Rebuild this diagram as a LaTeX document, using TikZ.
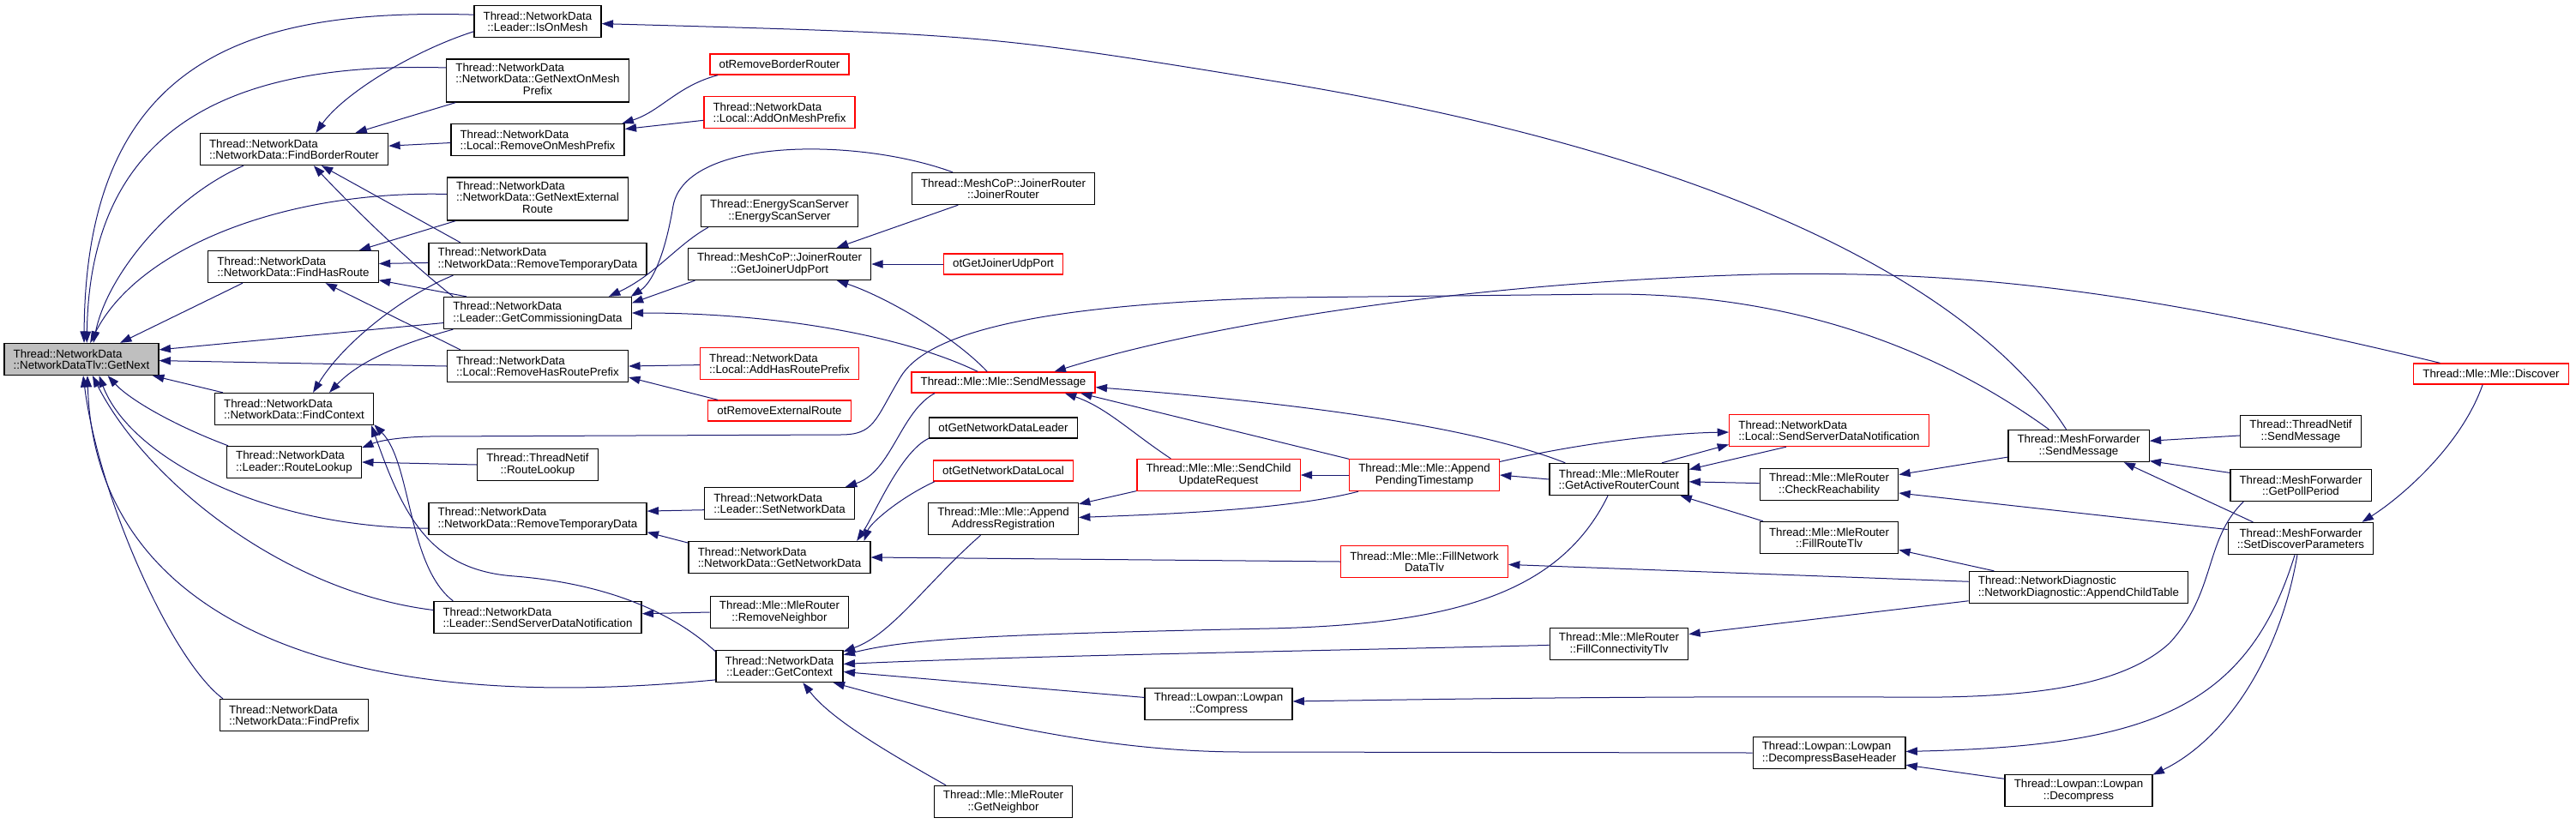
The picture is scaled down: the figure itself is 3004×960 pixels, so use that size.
\documentclass[tikz,border=0pt]{standalone}
\usepackage{fontspec}
\setmainfont{Liberation Sans}
\usetikzlibrary{arrows.meta}

\definecolor{edgeblue}{HTML}{191970}
\definecolor{truncred}{HTML}{FF0000}
\definecolor{focusgray}{HTML}{BFBFBF}

\tikzset{
	fn/.style={draw=black, line width=1pt, fill=white, inner xsep=8pt, inner ysep=1pt,
		minimum height=27.75pt, align=left, font=\fontsize{10pt}{10pt}\selectfont},
	fnc/.style={fn, align=center},
	oneline/.style={minimum height=18pt},
	threeline/.style={minimum height=37.5pt},
	trunc/.style={draw=truncred},
	focus/.style={fill=focusgray},
	call/.style={draw=edgeblue, line width=0.75pt, -{Triangle[length=10pt,width=7pt]}}
}

\begin{document}
\begin{tikzpicture}[x=0.75pt,y=-0.75pt]
	\useasboundingbox (0,0) rectangle (3004,960);
	% the function itself
	\node[fn,focus] (gn) at (95,419) {Thread::NetworkData\\::NetworkDataTlv::GetNext};
	% second column
	\node[fn] (fbr) at (343,174) {Thread::NetworkData\\::NetworkData::FindBorderRouter};
	\node[fn] (fhr) at (342,311) {Thread::NetworkData\\::NetworkData::FindHasRoute};
	\node[fn] (fctx) at (343,477) {Thread::NetworkData\\::NetworkData::FindContext};
	\node[fn] (rl) at (343,539) {Thread::NetworkData\\::Leader::RouteLookup};
	\node[fn] (fpre) at (343,834) {Thread::NetworkData\\::NetworkData::FindPrefix};
	% third column
	\node[fnc] (ison) at (627,25) {Thread::NetworkData\\::Leader::IsOnMesh};
	\node[fn,threeline] (gnomp) at (627,94) {\begin{tabular}{@{}l@{}}Thread::NetworkData\\::NetworkData::GetNextOnMesh\\\multicolumn{1}{@{}c@{}}{Prefix}\end{tabular}};
	\node[fn] (romp) at (627,163) {Thread::NetworkData\\::Local::RemoveOnMeshPrefix};
	\node[fn,threeline] (gner) at (627,232) {\begin{tabular}{@{}l@{}}Thread::NetworkData\\::NetworkData::GetNextExternal\\\multicolumn{1}{@{}c@{}}{Route}\end{tabular}};
	\node[fn] (rtda) at (627,302) {Thread::NetworkData\\::NetworkData::RemoveTemporaryData};
	\node[fn] (gcd) at (627,365) {Thread::NetworkData\\::Leader::GetCommissioningData};
	\node[fn] (rhrp) at (627,427) {Thread::NetworkData\\::Local::RemoveHasRoutePrefix};
	\node[fnc] (tnrl) at (627,542) {Thread::ThreadNetif\\::RouteLookup};
	\node[fn] (rtdb) at (627,605) {Thread::NetworkData\\::NetworkData::RemoveTemporaryData};
	\node[fn] (lssdn) at (627,720) {Thread::NetworkData\\::Leader::SendServerDataNotification};
	% fourth column
	\node[fnc,oneline,trunc] (orbr) at (909,75) {otRemoveBorderRouter};
	\node[fn,trunc] (aomp) at (909,131) {Thread::NetworkData\\::Local::AddOnMeshPrefix};
	\node[fnc] (ess) at (909,246) {Thread::EnergyScanServer\\::EnergyScanServer};
	\node[fnc] (gjup) at (909,308) {Thread::MeshCoP::JoinerRouter\\::GetJoinerUdpPort};
	\node[fn,trunc] (ahrp) at (909,424) {Thread::NetworkData\\::Local::AddHasRoutePrefix};
	\node[fnc,oneline,trunc] (orer) at (909,479) {otRemoveExternalRoute};
	\node[fn] (snd) at (909,587) {Thread::NetworkData\\::Leader::SetNetworkData};
	\node[fn] (gnd) at (909,650) {Thread::NetworkData\\::NetworkData::GetNetworkData};
	\node[fnc] (rnb) at (909,714) {Thread::Mle::MleRouter\\::RemoveNeighbor};
	\node[fnc] (gctx) at (909,777) {Thread::NetworkData\\::Leader::GetContext};
	% fifth column
	\node[fnc] (jr) at (1170,220) {Thread::MeshCoP::JoinerRouter\\::JoinerRouter};
	\node[fnc,oneline,trunc] (ogjup) at (1170,308) {otGetJoinerUdpPort};
	\node[fnc,oneline,trunc] (msm) at (1170,446) {Thread::Mle::Mle::SendMessage};
	\node[fnc,oneline] (ogndl) at (1170,499) {otGetNetworkDataLeader};
	\node[fnc,oneline,trunc] (ogndlo) at (1170,549) {otGetNetworkDataLocal};
	\node[fnc] (aar) at (1170,605) {Thread::Mle::Mle::Append\\AddressRegistration};
	\node[fnc] (gnb) at (1170,935) {Thread::Mle::MleRouter\\::GetNeighbor};
	% sixth and seventh columns
	\node[fnc,trunc] (scur) at (1421,554) {Thread::Mle::Mle::SendChild\\UpdateRequest};
	\node[fnc] (cmp) at (1421,821) {Thread::Lowpan::Lowpan\\::Compress};
	\node[fnc,trunc] (apt) at (1661,554) {Thread::Mle::Mle::Append\\PendingTimestamp};
	\node[fnc,trunc] (fndt) at (1661,655) {Thread::Mle::Mle::FillNetwork\\DataTlv};
	% eighth and ninth columns
	\node[fnc] (garc) at (1888,559) {Thread::Mle::MleRouter\\::GetActiveRouterCount};
	\node[fnc] (fct) at (1888,751) {Thread::Mle::MleRouter\\::FillConnectivityTlv};
	\node[fn,trunc] (issdn) at (2133,502) {Thread::NetworkData\\::Local::SendServerDataNotification};
	\node[fnc] (crch) at (2133,565) {Thread::Mle::MleRouter\\::CheckReachability};
	\node[fnc] (frt) at (2133,627) {Thread::Mle::MleRouter\\::FillRouteTlv};
	\node[fn] (dbh) at (2133,878) {Thread::Lowpan::Lowpan\\::DecompressBaseHeader};
	% right side
	\node[fnc] (mfsm) at (2424,520) {Thread::MeshForwarder\\::SendMessage};
	\node[fn] (act) at (2424,685) {Thread::NetworkDiagnostic\\::NetworkDiagnostic::AppendChildTable};
	\node[fnc] (dcmp) at (2424,922) {Thread::Lowpan::Lowpan\\::Decompress};
	\node[fnc] (tnsm) at (2683,503) {Thread::ThreadNetif\\::SendMessage};
	\node[fnc] (gpp) at (2683,566) {Thread::MeshForwarder\\::GetPollPeriod};
	\node[fnc] (sdp) at (2683,628) {Thread::MeshForwarder\\::SetDiscoverParameters};
	\node[fnc,oneline,trunc] (disc) at (2905,436) {Thread::Mle::Mle::Discover};

	% callers of GetNext
	\draw[call] (ison.174) .. controls (300,10) and (100,60) .. (gn.81);
	\draw[call] (gnomp.172) .. controls (280,72) and (105,140) .. (gn.72);
	\draw[call] (fbr.198) .. controls (200,230) and (125,320) .. (gn.54);
	\draw[call] (gner.177) .. controls (330,222) and (160,290) .. (gn.62);
	\draw[call] (fhr.198) -- (gn.23);
	\draw[call] (gcd.186) -- (gn.7);
	\draw[call] (rhrp.180) -- (gn.-1);
	\draw[call] (fctx.167) -- (gn.-13);
	\draw[call] (rl.166) .. controls (200,495) and (150,465) .. (gn.-32);
	\draw[call] (rtdb.185) .. controls (300,615) and (150,530) .. (gn.-43);
	\draw[call] (lssdn.176) .. controls (330,690) and (170,560) .. (gn.-56);
	\draw[call] (gctx.192) .. controls (350,840) and (110,700) .. (gn.-70);
	\draw[call] (fpre.167) .. controls (200,770) and (115,580) .. (gn.-84);
	% second column
	\draw[call] (ison.189) .. controls (480,60) and (400,110) .. (fbr.37);
	\draw[call] (gnomp.195) -- (fbr.15);
	\draw[call] (romp.182) -- (fbr.2);
	\draw[call] (rtda.168) -- (fbr.-31);
	\draw[call] (gcd.169) .. controls (470,300) and (400,230) .. (fbr.-40);
	\draw[call] (gner.195) -- (fhr.14);
	\draw[call] (rtda.182) -- (fhr.2);
	\draw[call] (gcd.167) -- (fhr.-9);
	\draw[call] (rhrp.168) -- (fhr.-27);
	\draw[call] (rtda.191) .. controls (470,345) and (400,400) .. (fctx.41);
	\draw[call] (gcd.191) .. controls (470,400) and (420,420) .. (fctx.25);
	\draw[call] (gctx.167) .. controls (780,710) and (700,680) .. (600,672)
		.. controls (500,665) and (470,600) .. (fctx.-12);
	\draw[call] (lssdn.169) .. controls (475,660) and (480,540) .. (fctx.-11);
	\draw[call] (tnrl.180) -- (rl.east);
	\draw[call] (mfsm.151) .. controls (2250,400) and (2080,343) .. (1880,343) -- (1500,347)
		.. controls (1200,355) and (1080,390) .. (1050,440)
		.. controls (1020,490) and (1020,507) .. (980,507) -- (500,509)
		.. controls (460,510) and (440,515) .. (rl.12);
	% third column
	\draw[call] (orbr.190) .. controls (790,100) and (770,130) .. (romp.11);
	\draw[call] (aomp.186) -- (romp.7);
	\draw[call] (jr.162) .. controls (1000,160) and (800,160) .. (785,240)
		.. controls (775,300) and (760,330) .. (gcd.10);
	\draw[call] (ess.193) .. controls (790,285) and (765,320) .. (gcd.13);
	\draw[call] (gjup.191) -- (gcd.6);
	\draw[call] (msm.157) .. controls (1050,390) and (900,365) .. (gcd.east);
	\draw[call] (ahrp.181) -- (rhrp.east);
	\draw[call] (orer.170) -- (rhrp.-7);
	\draw[call] (snd.185) -- (rtdb.4);
	\draw[call] (gnd.171) -- (rtdb.-7);
	\draw[call] (rnb.180) -- (lssdn.2);
	% fourth column
	\draw[call] (jr.200) -- (gjup.16);
	\draw[call] (ogjup.west) -- (gjup.east);
	\draw[call] (msm.146) .. controls (1110,390) and (1030,345) .. (gjup.-16);
	\draw[call] (msm.189) .. controls (1050,480) and (1040,550) .. (snd.14);
	\draw[call] (ogndl.188) .. controls (1050,527) and (1020,600) .. (gnd.12);
	\draw[call] (ogndlo.189) .. controls (1050,580) and (1015,610) .. (gnd.11);
	\draw[call] (fndt.180) -- (gnd.east);
	\draw[call] (aar.216) .. controls (1080,680) and (1040,740) .. (gctx.13);
	\draw[call] (garc.236) .. controls (1820,690) and (1700,728) .. (1480,733)
		.. controls (1150,740) and (1060,745) .. (gctx.10);
	\draw[call] (fct.181) .. controls (1400,762) and (1200,765) .. (gctx.2);
	\draw[call] (cmp.175) -- (gctx.-5);
	\draw[call] (dbh.180) -- (1450,877) .. controls (1300,877) and (1150,845) .. (gctx.-17);
	\draw[call] (gnb.164) .. controls (1040,880) and (970,840) .. (gctx.-35);
	% Mle::SendMessage and the middle
	\draw[call] (disc.168) .. controls (2500,340) and (2300,315) .. (2050,320)
		.. controls (1700,330) and (1400,380) .. (msm.12);
	\draw[call] (garc.163) .. controls (1700,490) and (1450,465) .. (msm.-3);
	\draw[call] (scur.161) .. controls (1320,505) and (1290,475) .. (msm.-10);
	\draw[call] (apt.168) -- (msm.-8);
	\draw[call] (scur.191) -- (aar.11);
	\draw[call] (apt.194) .. controls (1500,595) and (1350,600) .. (aar.1);
	\draw[call] (apt.west) -- (scur.east);
	\draw[call] (garc.180) -- (apt.east);
	\draw[call] (apt.10) .. controls (1850,515) and (1950,505) .. (issdn.181);
	\draw[call] (garc.21) -- (issdn.188);
	\draw[call] (issdn.201) -- (garc.8);
	\draw[call] (crch.179) -- (garc.-2);
	\draw[call] (frt.166) -- (garc.-15);
	% right side
	\draw[call] (mfsm.189) -- (crch.8);
	\draw[call] (sdp.173) -- (crch.-7);
	\draw[call] (act.169) -- (frt.-10);
	\draw[call] (act.177) -- (fndt.-2);
	\draw[call] (act.187) -- (fct.8);
	\draw[call] (mfsm.127) .. controls (2300,330) and (2000,180) .. (1500,97)
		.. controls (1150,40) .. (ison.-2);
	\draw[call] (tnsm.184) -- (mfsm.4);
	\draw[call] (gpp.170) -- (mfsm.-12);
	\draw[call] (sdp.161) -- (mfsm.-20);
	\draw[call] (disc.232) .. controls (2870,520) and (2800,580) .. (sdp.15);
	\draw[call] (gpp.196) .. controls (2570,630) and (2585,690) .. (2530,750)
		.. controls (2470,805) and (2350,815) .. (2200,813)
		.. controls (1900,812) and (1700,815) .. (cmp.2);
	\draw[call] (sdp.250) .. controls (2620,830) and (2500,870) .. (dbh.1);
	\draw[call] (dcmp.171) -- (dbh.-9);
	\draw[call] (sdp.258) .. controls (2660,760) and (2600,860) .. (dcmp.12);
\end{tikzpicture}
\end{document}
